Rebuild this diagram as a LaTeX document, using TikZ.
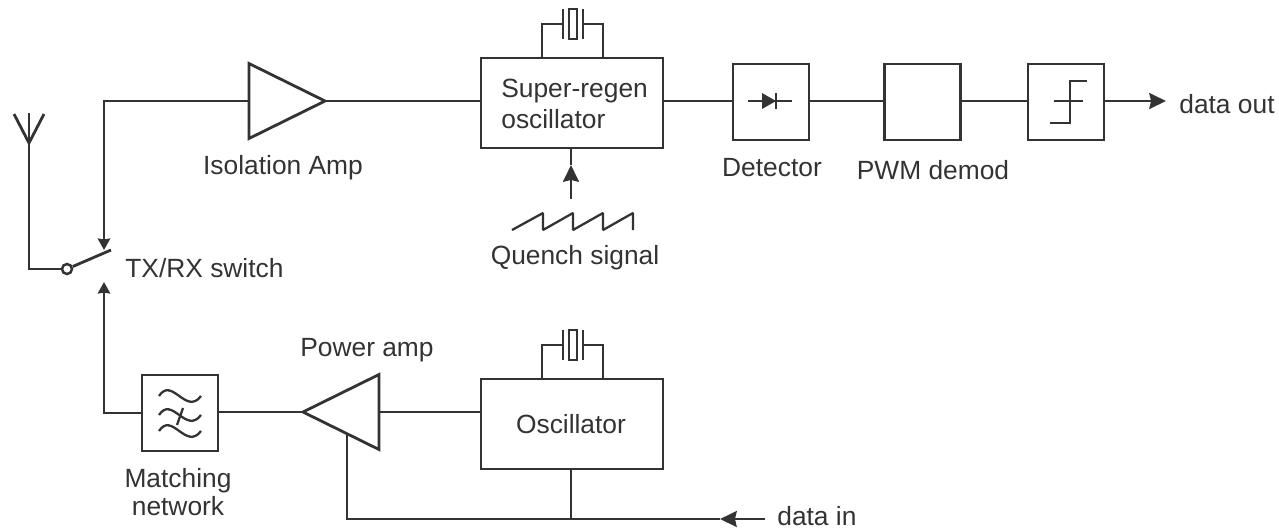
\documentclass[tikz,border=0pt]{standalone}
\usepackage{fontspec}
\setmainfont{Liberation Sans}
\usepackage{tikz}
\usetikzlibrary{arrows.meta, positioning, calc, shapes.geometric}
\definecolor{ink}{HTML}{333333}

\tikzset{
  wire/.style={ink, line width=1.6pt, line join=miter},
  thinwire/.style={ink, line width=1.3pt},
  feed/.style={wire, -{Stealth[length=9.5pt, width=9pt, inset=1pt]}},
  feedsmall/.style={wire, -{Stealth[length=6.5pt, width=7pt, inset=0.5pt]}},
  blockbox/.style={draw=ink, line width=1.6pt, minimum width=#1, minimum height=1.52cm, inner sep=0pt, outer sep=0pt},
  blockbox/.default=1.52cm,
  ampshape/.style={draw=ink, line width=1.6pt, isosceles triangle, isosceles triangle stretches,
    minimum width=1.5cm, minimum height=1.52cm, inner sep=0pt, outer sep=0pt, anchor=apex},
  caption/.style={text=ink, font=\fontsize{15pt}{18pt}\selectfont, inner sep=0pt}
}
% crystal drawn above a box, #1 = centre x, #2 = wire height, #3 = box top
\newcommand{\crystalsym}[3]{
  \draw[wire] (#1-31, #3) |- (#1-10, #2);
  \draw[wire] (#1+30, #3) |- (#1+10, #2);
  \draw[wire] (#1-10, #2-15) -- (#1-10, #2+15);
  \draw[wire] (#1+10, #2-15) -- (#1+10, #2+15);
  \draw[wire] (#1-4, #2-15) rectangle (#1+4, #2+15);
}

\begin{document}
\begin{tikzpicture}[x=0.02cm, y=-0.02cm]
    \useasboundingbox (0, 0) rectangle (1279, 529);

    % receive path
    \node[ampshape, shape border rotate=0] (isoamp) at (325, 101) {};
    \node[blockbox=3.64cm, minimum height=1.8cm] (superregen) at (572, 103) {};
    \node[blockbox] (detector) at (771, 102) {};
    \node[blockbox] (pwm) at (922.5, 102) {};
    \node[blockbox] (slicer) at (1066, 102) {};
    \coordinate (dataoutend) at (1166, 101);
    \node[caption, anchor=west] (dataout) at (1179, 104) {data out};

    \node[caption] (isolabel) at (283, 168) {Isolation Amp};
    \node[caption, anchor=north west, align=left, font=\fontsize{15pt}{17.6pt}\selectfont] (regenlabel) at (501, 79) {Super-regen\\oscillator};
    \node[caption] (detlabel) at (772, 168) {Detector};
    \node[caption] (pwmlabel) at (933, 170) {PWM demod};
    \node[caption] (quenchlabel) at (575, 258) {Quench signal};

    % transmit path
    \node[blockbox] (matching) at (180, 413) {};
    \node[ampshape, shape border rotate=180] (poweramp) at (303, 412) {};
    \node[blockbox=3.64cm, minimum height=1.8cm] (oscillator) at (572, 424) {};
    \node[caption] (osclabel) at (571, 424) {Oscillator};
    \node[caption] (palabel) at (367, 350) {Power amp};
    \node[caption, align=center, font=\fontsize{15pt}{16.4pt}\selectfont] (matchlabel) at (178, 492) {Matching\\network};
    \node[caption, anchor=west] (datain) at (777, 516) {data in};

    % switch and antenna
    \node[circle, draw=ink, line width=1.4pt, minimum size=0.2cm, inner sep=0pt] (pole) at (67, 269) {};
    \node[caption, anchor=west] (switchlabel) at (125, 268) {TX/RX switch};
    \coordinate (throw) at (111, 250);
    \coordinate (antbase) at (29, 143);
    \draw[wire] (pole) -- (throw);
    \draw[wire] (pole) -| (antbase);
    \draw[wire] (29, 113) -- (antbase);
    \draw[wire] (14, 114) -- (antbase) -- (44, 114);

    % connectors
    \coordinate (rxtip) at (104, 250);
    \coordinate (txtip) at (104, 282);
    \draw[feedsmall] (isoamp.west |- 0,101) -| (rxtip);
    \draw[feedsmall] (matching.west) -| (txtip);
    \draw[wire] (isoamp.apex) -- (superregen.west |- 0,101);
    \draw[wire] (superregen.east |- 0,101) -- (detector.west |- 0,101);
    \draw[wire] (detector.east |- 0,101) -- (pwm.west |- 0,101);
    \draw[wire] (pwm.east |- 0,101) -- (slicer.west |- 0,101);
    \draw[feed] (slicer.east |- 0,101) -- (dataoutend);
    \draw[wire] (matching.east |- 0,412) -- (poweramp.apex);
    \draw[wire] (oscillator.west |- 0,412) -- (378, 412);

    % quench input
    \coordinate (sawtop) at (571, 199);
    \coordinate (quenchtip) at (571, 165);
    \draw[feed] (sawtop) -- (quenchtip);
    \draw[wire] (quenchtip) -- (superregen.south -| quenchtip);
    \draw[thinwire, line join=bevel] (512, 230) -- (543, 213) -- (543, 230) -- (573, 213) -- (573, 230)
      -- (603, 213) -- (603, 230) -- (633, 213) -- (633, 230);

    % data in bus
    \coordinate (datainend) at (765, 519);
    \coordinate (datatip) at (720, 519);
    \coordinate (busleft) at (347, 519);
    \draw[feed] (datainend) -- (datatip);
    \draw[wire] (datatip) -- (busleft) -- (347, 435);
    \draw[wire] (oscillator.south -| 571,0) -- (571, 519);

    % crystals
    \crystalsym{573}{24}{58}
    \crystalsym{573}{345}{379}

    % diode
    \draw[wire] (748, 101) -- (792, 101);
    \fill[ink] (762, 93) -- (762, 109) -- (776, 101) -- cycle;
    \draw[wire] (776, 93) -- (776, 109);

    % slicer symbol
    \draw[wire] (1087, 81) -| (1070, 123) -- (1050, 123);
    \draw[wire] (1054, 101) -- (1083, 101);

    % filter waves
    \foreach \wavey in {396, 415, 431} {
      \draw[thinwire] (159, \wavey) .. controls (172, \wavey-20) and (186, \wavey+20) .. (201, \wavey);
    }
    \draw[thinwire] (183, 408) -- (177, 425);
\end{tikzpicture}
\end{document}
